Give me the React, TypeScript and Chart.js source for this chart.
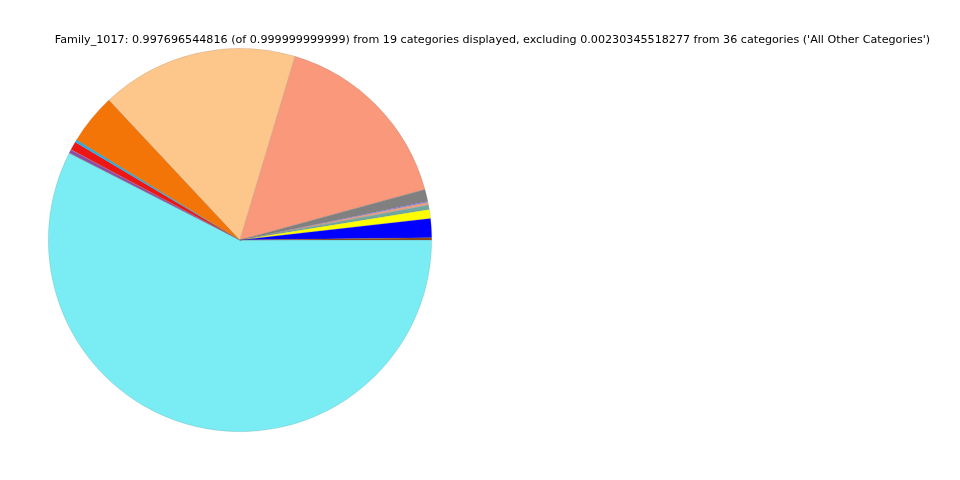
import React, { useEffect, useRef } from "react";
import { Chart, registerables } from "chart.js";

Chart.register(...registerables);

// Order: counter-clockwise from 3 o'clock (matplotlib style)
const categories = [
  "Cat_01", "Cat_02", "Cat_03", "Cat_04", "Cat_05", "Cat_06", "Cat_07",
  "Cat_08", "Cat_09", "Cat_10", "Cat_11", "Cat_12", "Cat_13", "Cat_14",
  "Cat_15", "Cat_16", "Cat_17", "Cat_18", "Cat_19",
];
const values = [
  0.0018, 0.0161, 0.0075, 0.0036, 0.0003, 0.0019, 0.0002, 0.0010, 0.0100,
  0.1608, 0.1658, 0.0425, 0.0003, 0.0020, 0.0072, 0.0002, 0.0028, 0.0002, 0.5738,
];
const colors = [
  "#8B4513", "#0000FF", "#FFFF00", "#6FA8A0", "#C0C0C0", "#F4A07C", "#40E0D0", "#9966FF", "#808080",
  "#F9987A", "#FDC68A", "#F47507", "#2E8B57", "#1EB0EE", "#EE1515", "#FF69B4", "#8E4AA8", "#556B2F", "#7AECF3",
];
const titleText =
  "Family_1017: 0.997696544816 (of 0.999999999999) from 19 categories displayed, excluding 0.00230345518277 from 36 categories ('All Other Categories')";

export default function App() {
  const ref = useRef<HTMLCanvasElement | null>(null);
  useEffect(() => {
    if (!ref.current) return;
    const titlePlugin = {
      id: "mplTitle",
      afterDraw(chart: any) {
        const ctx = chart.ctx;
        ctx.save();
        ctx.fillStyle = "#000";
        ctx.font = "11.15px 'DejaVu Sans'";
        ctx.textAlign = "center";
        ctx.textBaseline = "middle";
        ctx.fillText(titleText, 492.5, 40);
        ctx.restore();
      },
    };
    const chart = new Chart(ref.current, {
      type: "pie",
      data: {
        labels: [...categories].reverse(),
        datasets: [
          {
            data: [...values].reverse(),
            backgroundColor: [...colors].reverse(),
            borderColor: "rgba(120,120,120,0.35)",
            borderWidth: 0.5,
          },
        ],
      },
      options: {
        responsive: false,
        animation: false,
        rotation: 90,
        layout: { padding: { left: 48, right: 528, top: 48, bottom: 48 } },
        plugins: {
          legend: { display: false },
          title: { display: false },
          tooltip: { enabled: false },
        },
      },
      plugins: [titlePlugin],
    });
    return () => chart.destroy();
  }, []);
  return (
    <div style={{ position: "fixed", left: 0, top: 0, width: 960, height: 480, background: "#fff" }}>
      <canvas ref={ref} width={960} height={480} style={{ width: 960, height: 480 }} />
    </div>
  );
}
